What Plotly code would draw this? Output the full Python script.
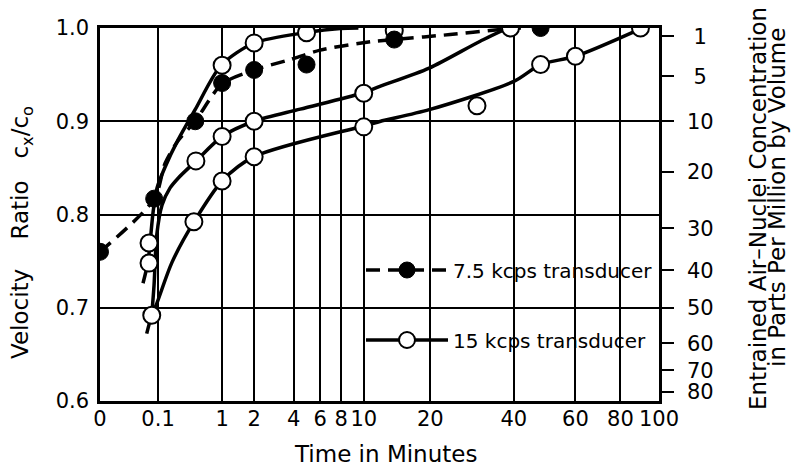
import numpy as np
import plotly.graph_objects as go

# ---------------- scales ----------------
# Time axis (minutes): tick values, labels and their place along the printed (non-uniform) axis
TIME_TICKS = [0, 0.1, 1, 2, 4, 6, 8, 10, 20, 40, 60, 80, 100]
TIME_TICK_TEXT = ["0", "0.1", "1", "2", "4", "6", "8", "10", "20", "40", "60", "80", "100"]
TIME_TICK_PLACE = [0, 58, 122, 154, 193.5, 220, 241, 263.5, 330, 413.5, 475, 520, 558.5]
SCALE_POWER = 0.31  # smooth warp used between printed ticks

# Velocity-ratio axis (left) and the equivalent air-nuclei concentration axis (right)
RATIO_TICKS = [0.6, 0.7, 0.8, 0.9, 1.0]
RATIO_TICK_TEXT = ["0.6", "0.7", "0.8", "0.9", "1.0"]
PPM_TICKS = [1, 5, 10, 20, 30, 40, 50, 60, 70, 80]
PPM_AS_RATIO = [0.991, 0.948, 0.900, 0.846, 0.785, 0.740, 0.700, 0.662, 0.633, 0.610]

# ---------------- data ----------------
# 7.5 kcps transducer (filled circles)
T_75 = [0, 0.08, 0.46, 1.0, 2.0, 4.9, 14, 48]
R_75 = [0.76, 0.817, 0.90, 0.941, 0.955, 0.9608, 0.9876, 1.0]
# fitted dashed curve for 7.5 kcps
FIT75_T = [0, 0.081, 0.142, 0.248, 0.458, 1.0, 2.0, 3.78, 6.0, 10.8, 14, 23.9, 36.1, 42]
FIT75_R = [0.76, 0.817, 0.855, 0.879, 0.90, 0.94, 0.955, 0.9661, 0.9763, 0.9852, 0.9876, 0.993, 0.9984, 1.0]

# 15 kcps transducer (open circles)
T_15 = [0.058, 0.058, 0.069, 0.44, 0.47, 1, 1, 1, 2, 2, 2, 4.9, 10, 10, 14, 30, 39, 48, 60, 90]
R_15 = [0.7694, 0.7479, 0.692, 0.7923, 0.8575, 0.960, 0.8837, 0.836, 0.984, 0.90, 0.862,
        0.995, 0.930, 0.894, 0.997, 0.9167, 1.0, 0.9608, 0.9697, 1.0]
# fitted solid curves for 15 kcps (three runs)
FIT15A_T = [0.038, 0.054, 0.062, 0.075, 0.0945, 0.142, 0.248, 0.458, 0.97, 2.0, 4.9, 7.9, 9.5]
FIT15A_R = [0.7263, 0.7489, 0.7694, 0.8027, 0.8285, 0.851, 0.880, 0.9124, 0.9597, 0.9839, 0.9952, 0.9995, 1.0]
FIT15B_T = [0.069, 0.0794, 0.093, 0.1226, 0.178, 0.251, 0.473, 1.0, 2.0, 4.44, 9.8, 12, 19.8, 30.8, 38, 40]
FIT15B_R = [0.692, 0.7242, 0.778, 0.8102, 0.8285, 0.8392, 0.8575, 0.8837, 0.90, 0.913, 0.930, 0.9374,
            0.957, 0.9858, 0.9991, 1.0]
FIT15C_T = [0.0496, 0.069, 0.093, 0.194, 0.443, 1.0, 2.0, 9.8, 12, 19.8, 40, 48, 60, 90]
FIT15C_R = [0.6723, 0.692, 0.7045, 0.7489, 0.7923, 0.836, 0.862, 0.8944, 0.8998, 0.9124, 0.9428,
            0.9608, 0.9697, 0.9991]

NAME_75 = "7.5 kcps transducer"
NAME_15 = "15 kcps transducer"


def time_axis(t):
    t = np.asarray(t, dtype=float)
    ref = np.asarray(TIME_TICKS, dtype=float) ** SCALE_POWER
    return np.interp(t ** SCALE_POWER, ref, TIME_TICK_PLACE)


FONT = "DejaVu Sans"
LW = 3.5
DASH = "14px,8px"
open_marker = dict(symbol="circle", size=17, color="white", line=dict(color="black", width=2))
filled_marker = dict(symbol="circle", size=17, color="black", line=dict(color="black", width=1))

fig = go.Figure()

for tt, rr in [(FIT15A_T, FIT15A_R), (FIT15B_T, FIT15B_R), (FIT15C_T, FIT15C_R)]:
    fig.add_trace(go.Scatter(x=time_axis(tt), y=rr, mode="lines", showlegend=False,
                             line=dict(color="black", width=LW, shape="spline", smoothing=0.8),
                             hoverinfo="skip"))
fig.add_trace(go.Scatter(x=time_axis(FIT75_T), y=FIT75_R, mode="lines", showlegend=False,
                         line=dict(color="black", width=LW, dash=DASH, shape="spline", smoothing=0.8),
                         hoverinfo="skip"))
fig.add_trace(go.Scatter(x=time_axis(T_15), y=R_15, mode="markers", marker=open_marker,
                         showlegend=False, name=NAME_15))
fig.add_trace(go.Scatter(x=time_axis(T_75), y=R_75, mode="markers", marker=filled_marker,
                         showlegend=False, name=NAME_75))

# legend entries (line + symbol)
fig.add_trace(go.Scatter(x=[None], y=[None], mode="lines+markers", name=NAME_75, legend="legend",
                         line=dict(color="black", width=LW, dash=DASH), marker=filled_marker,
                         yaxis="y2"))
fig.add_trace(go.Scatter(x=[None], y=[None], mode="lines+markers", name=NAME_15, legend="legend2",
                         line=dict(color="black", width=LW), marker=open_marker, yaxis="y2"))

ppm_text = [("\u00a0" + str(v)) if v < 10 else str(v) for v in PPM_TICKS]

# plot area in pixels: x 100..659, y 28..401
L, R, T, B = 100, 132, 28, 69
W, H = 791, 470
PW, PH = W - L - R, H - T - B


def px(xp):
    return (xp - L) / PW


def py(yp):
    return (H - B - yp) / PH


legend_common = dict(bgcolor="rgba(0,0,0,0)", borderwidth=0, font=dict(family=FONT, size=20, color="black"),
                     xanchor="left", yanchor="middle", itemwidth=82, itemsizing="trace",
                     tracegroupgap=0)

fig.update_layout(
    template="none",
    width=W, height=H,
    margin=dict(l=L, r=R, t=T, b=B, pad=0),
    paper_bgcolor="white", plot_bgcolor="white",
    font=dict(family=FONT, size=21, color="black"),
    xaxis=dict(range=[0, TIME_TICK_PLACE[-1]], tickmode="array", tickvals=TIME_TICK_PLACE,
               ticktext=TIME_TICK_TEXT, ticks="", showgrid=True, gridcolor="black", gridwidth=2,
               zeroline=False, showline=True, linecolor="black", linewidth=2.5, mirror=True,
               tickfont=dict(family=FONT, size=21, color="black"), automargin=False,
               ticklabelstandoff=-3),
    yaxis=dict(range=[0.6, 1.0], tickmode="array", tickvals=RATIO_TICKS, ticktext=RATIO_TICK_TEXT,
               ticks="", showgrid=True, gridcolor="black", gridwidth=2, zeroline=False,
               showline=True, linecolor="black", linewidth=2.5, mirror=True,
               tickfont=dict(family=FONT, size=21, color="black"), automargin=False,
               ticklabelstandoff=4),
    yaxis2=dict(range=[0.6, 1.0], overlaying="y", side="right", anchor="x", tickmode="array",
                tickvals=PPM_AS_RATIO, ticktext=ppm_text, ticks="outside", ticklen=12, tickwidth=2,
                tickcolor="black", showgrid=False, zeroline=False, showline=True, linecolor="black",
                linewidth=2.5, tickfont=dict(family=FONT, size=21, color="black"), automargin=False,
                ticklabelstandoff=9),
    legend=dict(x=px(361), y=py(270), **legend_common),
    legend2=dict(x=px(361), y=py(340), **legend_common),
    shapes=[
        dict(type="rect", xref="paper", yref="paper", x0=px(365), x1=px(657), y0=py(295), y1=py(240),
             fillcolor="white", line=dict(width=0), layer="between"),
        dict(type="rect", xref="paper", yref="paper", x0=px(365), x1=px(657), y0=py(367), y1=py(317),
             fillcolor="white", line=dict(width=0), layer="between"),
    ],
    annotations=[
        dict(text="Time in Minutes", xref="paper", yref="paper", x=px(385), y=py(454),
             xanchor="center", yanchor="middle", showarrow=False, font=dict(family=FONT, size=23)),
        dict(text="Velocity\u00a0\u00a0\u00a0\u00a0Ratio\u00a0\u00a0\u00a0c<sub>x</sub>/c<sub>o</sub>",
             xref="paper", yref="paper", x=px(22), y=py(233), textangle=-90,
             xanchor="center", yanchor="middle", showarrow=False, font=dict(family=FONT, size=23)),
        dict(text="Entrained Air\u2013Nuclei Concentration", xref="paper", yref="paper",
             x=px(758), y=py(209), textangle=-90, xanchor="center", yanchor="middle",
             showarrow=False, font=dict(family=FONT, size=23)),
        dict(text="in Parts Per Million by Volume", xref="paper", yref="paper",
             x=px(777), y=py(198), textangle=-90, xanchor="center", yanchor="middle",
             showarrow=False, font=dict(family=FONT, size=23)),
    ],
)

fig.write_html("out.html", config={"displayModeBar": False},
               post_script="document.body.style.margin='0';")
